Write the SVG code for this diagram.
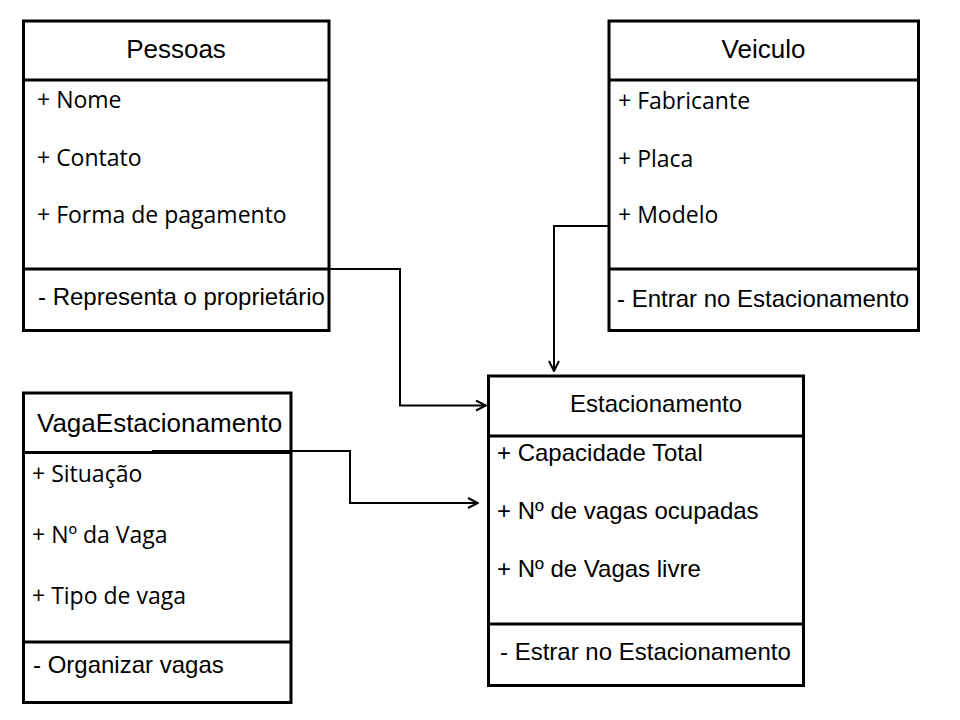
<svg xmlns="http://www.w3.org/2000/svg" width="960" height="720" viewBox="0 0 960 720">
<defs>
<style>
.box{fill:#fff;stroke:#000;stroke-width:3}
.div{stroke:#000;stroke-width:3}
.title{font-family:"Liberation Sans",Arial,sans-serif;font-size:26px;fill:#000}
.arial{font-family:"Liberation Sans",Arial,sans-serif;font-size:24px;fill:#000}
.cal{font-family:"Open Sans","Noto Sans",sans-serif;font-size:23px;fill:#000}
.conn{fill:none;stroke:#000;stroke-width:2}
</style>
<marker id="arr" viewBox="0 0 12 12" refX="11" refY="6" markerWidth="12" markerHeight="12" markerUnits="userSpaceOnUse" orient="auto">
<path d="M1,1 L11,6 L1,11" fill="none" stroke="#000" stroke-width="2"/>
</marker>
</defs>
<rect width="960" height="720" fill="#fff"/>

<g id="pessoas">
<rect class="box" x="23.5" y="21" width="305.5" height="309.5"/>
<line class="div" x1="23.5" y1="80" x2="329" y2="80"/>
<line class="div" x1="23.5" y1="269" x2="329" y2="269"/>
<text class="title" x="176" y="58" text-anchor="middle">Pessoas</text>
<text class="cal" x="37" y="108">+ Nome</text>
<text class="cal" x="37" y="166">+ Contato</text>
<text class="cal" x="37" y="223">+ Forma de pagamento</text>
<text class="arial" x="38" y="305">- Representa o proprietário</text>
</g>

<g id="veiculo">
<rect class="box" x="609" y="21" width="309.5" height="309.5"/>
<line class="div" x1="609" y1="80" x2="918.5" y2="80"/>
<line class="div" x1="609" y1="269" x2="918.5" y2="269"/>
<text class="title" x="763.5" y="58" text-anchor="middle">Veiculo</text>
<text class="cal" x="618" y="109">+ Fabricante</text>
<text class="cal" x="618" y="167">+ Placa</text>
<text class="cal" x="618" y="223">+ Modelo</text>
<text class="arial" x="617" y="307">- Entrar no Estacionamento</text>
</g>

<g id="estacionamento">
<rect class="box" x="488.5" y="376" width="315" height="309.5"/>
<line class="div" x1="488.5" y1="436" x2="803.5" y2="436"/>
<line class="div" x1="488.5" y1="624" x2="803.5" y2="624"/>
<text class="arial" x="570" y="412">Estacionamento</text>
<text class="arial" x="497" y="461">+ Capacidade Total</text>
<text class="arial" x="497" y="519">+ Nº de vagas ocupadas</text>
<text class="arial" x="497" y="577">+ Nº de Vagas livre</text>
<text class="arial" x="500" y="660">- Estrar no Estacionamento</text>
</g>

<g id="vagaestacionamento">
<rect class="box" x="23.5" y="393" width="267.5" height="309.5"/>
<line class="div" x1="23.5" y1="452.5" x2="291" y2="452.5"/>
<line class="div" x1="23.5" y1="642" x2="291" y2="642"/>
<text class="title" x="37" y="432">VagaEstacionamento</text>
<text class="cal" x="32" y="482">+ Situação</text>
<text class="cal" x="32" y="543">+ Nº da Vaga</text>
<text class="cal" x="32" y="604">+ Tipo de vaga</text>
<text class="arial" x="33" y="673">- Organizar vagas</text>
</g>

<g id="connectors">
<polyline class="conn" points="330,269 400,269 400,405.5 486,405.5" marker-end="url(#arr)"/>
<polyline class="conn" points="609,226 554,226 554,371" marker-end="url(#arr)"/>
<polyline class="conn" points="152,451 350,451 350,503 478,503" marker-end="url(#arr)"/>
</g>
</svg>
